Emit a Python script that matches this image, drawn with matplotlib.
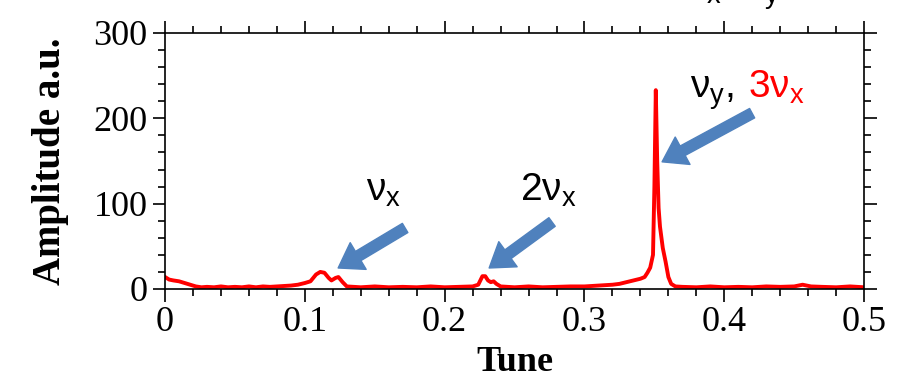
import matplotlib
matplotlib.use('Agg')
import matplotlib.pyplot as plt
from matplotlib.ticker import MultipleLocator

# Spectrum (tune, amplitude a.u.)
tune = [0.000, 0.003, 0.006, 0.010, 0.014, 0.018, 0.022, 0.026, 0.030, 0.035,
        0.040, 0.045, 0.050, 0.055, 0.060, 0.065, 0.070, 0.075, 0.080, 0.085,
        0.090, 0.095, 0.100, 0.104, 0.108, 0.111, 0.114, 0.117, 0.119, 0.122,
        0.124, 0.127, 0.130, 0.135, 0.140, 0.150, 0.160, 0.170, 0.180, 0.190,
        0.200, 0.210, 0.220, 0.224, 0.227, 0.229, 0.231, 0.233, 0.235, 0.237,
        0.240, 0.245, 0.250, 0.260, 0.270, 0.280, 0.290, 0.300, 0.310, 0.320,
        0.325, 0.330, 0.335, 0.340, 0.343, 0.345, 0.347, 0.349, 0.350, 0.351,
        0.352, 0.353, 0.354, 0.356, 0.358, 0.360, 0.362, 0.365, 0.370, 0.380,
        0.390, 0.400, 0.410, 0.420, 0.430, 0.440, 0.450, 0.456, 0.462, 0.470,
        0.480, 0.490, 0.500]
amp = [14, 11, 10, 9, 7, 5, 3, 2, 2.5, 2,
       3, 2, 2.5, 2, 3, 2, 3, 2.5, 3, 3.5,
       4, 5, 7, 9, 17, 20, 19, 13, 10, 13,
       14, 8, 3, 2.5, 2, 3, 2, 2.5, 2, 3,
       2, 2.5, 3, 5, 15, 15, 10, 8, 9, 6,
       3, 2.5, 2, 3, 2, 2.5, 3, 3, 4, 5,
       6, 8, 10, 12, 14, 19, 25, 40, 120, 233,
       150, 95, 73, 48, 32, 14, 6, 3, 2.5, 2,
       3, 2, 2.5, 2, 3, 2.5, 3, 5, 3, 2.5,
       2, 3, 2]
xtick_labels = ['0', '0.1', '0.2', '0.3', '0.4', '0.5']

plt.rcParams['font.family'] = 'Liberation Serif'

fig = plt.figure(figsize=(9.02, 3.79), dpi=100)
ax = fig.add_axes([0.183, 0.2375, 0.775, 0.6755])
ax.plot(tune, amp, color='red', lw=2.8)

ax.set_xlim(0, 0.5)
ax.set_ylim(0, 300)
ax.set_xticks([0, 0.1, 0.2, 0.3, 0.4, 0.5])
ax.set_xticklabels(xtick_labels)
ax.xaxis.set_minor_locator(MultipleLocator(0.02))
ax.yaxis.set_major_locator(MultipleLocator(100))
ax.yaxis.set_minor_locator(MultipleLocator(20))
ax.tick_params(which='both', direction='out', top=True, right=True,
               labeltop=False, labelright=False, width=1.2)
ax.tick_params(which='major', length=9, labelsize=26)
ax.tick_params(which='minor', length=5)
for s in ax.spines.values():
    s.set_linewidth(1.2)

ax.set_xlabel('Tune', fontsize=26, fontweight='bold', labelpad=5)
ax.set_ylabel('Amplitude a.u.', fontsize=28, fontweight='bold', labelpad=18)

sans = 'Liberation Sans'
sub = r'$_{\mathregular{%s}}$'
ax.text(0.1438, 104, 'ν' + sub % 'x', fontsize=28, family=sans)
ax.text(0.254, 104, '2ν' + sub % 'x', fontsize=28, family=sans)
ax.text(0.3755, 224, 'ν' + sub % 'y' + ',', fontsize=28, family=sans)
ax.text(0.417, 224, '3ν' + sub % 'x', fontsize=28, family=sans, color='red')
fig.text(0.762, 1.005, 'ν' + sub % 'x' + '=ν' + sub % 'y', fontsize=28,
         family=sans, va='baseline')

arrow_c = '#4F81BD'
arrows = [((0.1717, 71.5), (0.1238, 24.6)),
          ((0.2768, 78.5), (0.2318, 24.6)),
          ((0.4199, 206), (0.3555, 149))]
for tail, head in arrows:
    ax.annotate('', xy=head, xytext=tail,
                arrowprops=dict(arrowstyle='simple,head_width=1.6,head_length=1.2,tail_width=0.55',
                                color=arrow_c, mutation_scale=14,
                                shrinkA=0, shrinkB=0))

fig.savefig('out.png', dpi=100)
